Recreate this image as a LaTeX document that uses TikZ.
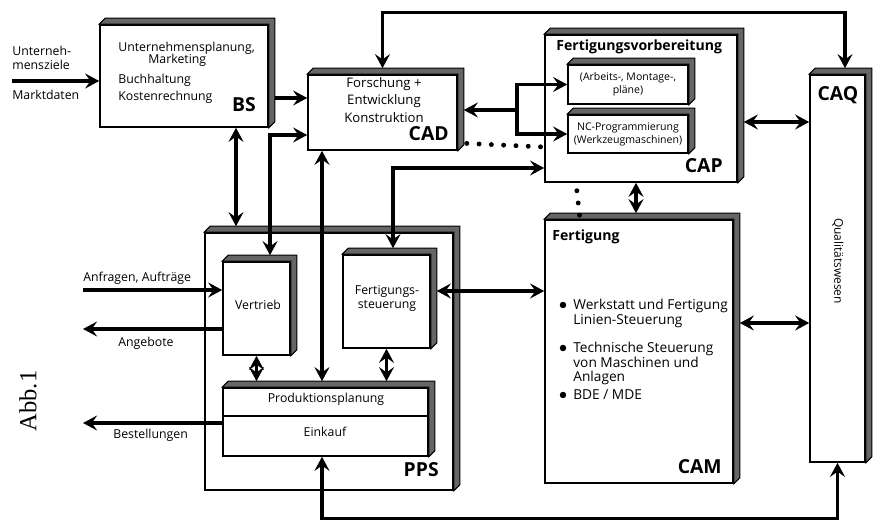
\documentclass[tikz,border=0pt]{standalone}
\usepackage{fontspec}
\setmainfont{Open Sans}
\newfontfamily\abbfont{Liberation Serif}
\usetikzlibrary{arrows.meta,fit}

\tikzset{
  box/.style={draw, line width=0.9pt, fill=white, inner sep=0pt},
  conn/.style={line width=1.8pt, -{Stealth[length=8pt,width=8.5pt,inset=3pt]}},
  dconn/.style={line width=1.8pt, {Stealth[length=8pt,width=8.5pt,inset=3pt]}-{Stealth[length=8pt,width=8.5pt,inset=3pt]}},
  dots/.style={line width=2.8pt, line cap=round, dash pattern=on 0pt off 7pt},
  txt/.style={font=\fontsize{7}{8}\selectfont, inner sep=0pt},
  small/.style={font=\fontsize{6}{7.5}\selectfont, inner sep=0pt},
  ttl/.style={font=\fontsize{8}{10}\selectfont\bfseries, inner sep=0pt},
  lbl/.style={font=\fontsize{11}{12}\selectfont\bfseries, inner sep=0pt},
}

% dark extruded edge on top and right of a box
\newcommand{\depth}[1]{%
  \filldraw[fill=black!60, line width=0.6pt] (#1.north west) -- ++(1.2mm,1.2mm)
    -| ([shift={(1.2mm,1.2mm)}]#1.south east) -- (#1.south east) -- (#1.north east) -- cycle;}

\begin{document}
\begin{tikzpicture}[x=0.2mm,y=-0.2mm]
  \useasboundingbox (0,0) rectangle (877,522);

  % boxes
  \node[box, fit={(100,25) (268,127)}] (bs) {};
  \node[box, fit={(308,75) (457,150)}] (cad) {};
  \node[box, fit={(545,35) (737,182)}] (cap) {};
  \node[box, fit={(568,65) (688,104)}] (arb) {};
  \node[box, fit={(568,115) (688,153)}] (ncp) {};
  \node[box, fit={(205,233) (453,490)}] (pps) {};
  \node[box, fit={(223,262) (290,355)}] (ver) {};
  \node[box, fit={(343,255) (430,348)}] (fst) {};
  \node[box, fit={(223,388) (428,456)}] (prod) {};
  \node[box, fit={(545,220) (733,483)}] (cam) {};
  \node[box, fit={(810,75) (865,462)}] (caq) {};
  \foreach \b in {bs,cad,cap,pps,cam,caq} {\depth{\b}}
  \foreach \b in {arb,ncp,ver,fst,prod} {\depth{\b}}
  \draw[line width=0.9pt] (prod.west |- 0,416) -- (prod.east |- 0,416);

  % texts
  \node[txt, anchor=west] (u1) at (118,48) {Unternehmensplanung,};
  \node[txt, anchor=west] (u2) at (148,60) {Marketing};
  \node[txt, anchor=west] (u3) at (118,80) {Buchhaltung};
  \node[txt, anchor=west] (u4) at (118,97) {Kostenrechnung};
  \node[lbl, anchor=east] (bsl) at (256,105) {BS};
  \node[txt, align=center, font=\fontsize{7.5}{10.2}\selectfont] (fe) at (384,100)
    {Forschung +\\Entwicklung\\Konstruktion};
  \node[lbl, anchor=east] (cadl) at (449,134) {CAD};
  \node[ttl, anchor=west] (fv) at (556,47) {Fertigungsvorbereitung};
  \node[small, align=center] (arbt) at (628,84) {(Arbeits-, Montage-,\\pläne)};
  \node[small, align=center] (ncpt) at (628,134) {NC-Programmierung\\(Werkzeugmaschinen)};
  \node[lbl, anchor=east] (capl) at (723,166) {CAP};
  \node[lbl] (caql) at (838,95) {CAQ};
  \node[txt, font=\fontsize{6.8}{8}\selectfont, rotate=-90] (qw) at (838,261) {Qualitätswesen};
  \node[ttl, anchor=west] (fg) at (552,237) {Fertigung};
  \foreach \y/\t [count=\i] in {305/{Werkstatt und Fertigung\\Linien-Steuerung},
      348/{Technische Steuerung\\von Maschinen und\\Anlagen}, 395/{BDE / MDE}} {
    \node[circle, fill, inner sep=1.3pt] (bul\i) at (563,\y) {};
    \node[txt, anchor=north west, align=left, font=\fontsize{7.8}{8.3}\selectfont]
      (it\i) at (573,\y-6) {\t};
  }
  \node[lbl, anchor=east] (caml) at (722,467) {CAM};
  \node[lbl, anchor=east] (ppsl) at (439,470) {PPS};
  \node[txt] (vt) at (258,305) {Vertrieb};
  \node[txt, align=center] (fstt) at (387,298) {Fertigungs-\\steuerung};
  \node[txt] (pp) at (326,399) {Produktionsplanung};
  \node[txt] (ek) at (325,432) {Einkauf};
  \node[txt, anchor=west, align=left] (uz) at (12,58) {Unterneh-\\mensziele};
  \node[txt, anchor=west] (md) at (12,95) {Marktdaten};
  \node[txt, anchor=west] (anft) at (83,278) {Anfragen, Aufträge};
  \node[txt, anchor=west] (angt) at (118,343) {Angebote};
  \node[txt, anchor=west] (best) at (113,435) {Bestellungen};
  \node[font=\abbfont\fontsize{14}{16}\selectfont, rotate=90, inner sep=0pt] (abb) at (28,401) {Abb.1};

  % free ends
  \coordinate (ziel) at (12,81);
  \coordinate (anf) at (83,290);
  \coordinate (ang) at (83,329);
  \coordinate (bes) at (83,423);
  \coordinate (split) at (517,110);

  % connectors
  \draw[conn] (ziel) -- (bs.west |- ziel);
  \draw[conn, shorten <=1.2mm] (bs.east |- 0,98) -- (cad.west |- 0,98);
  \draw[dconn, shorten >=1.2mm] (cad.west |- 0,135) -| (ver.north -| 270,0);
  \draw[dconn, shorten >=1.2mm] (bs.south -| 236,0) -- (pps.north -| 236,0);
  \draw[dconn, shorten <=1.2mm, shorten >=1.2mm] (cad.north) -- ++(0,-62) -| (caq.north -| 845,0);
  \draw[conn, shorten >=1.2mm] (split) -- (cad.east |- split);
  \draw[conn] (split) |- (arb.west);
  \draw[conn] (split) |- (ncp.west);
  \draw[dots, shorten <=1.8mm] (cad.east |- 0,143) -- (cap.west |- 0,147);
  \draw[dots, shorten <=1.6mm] (cap.south -| 576,0) -- (cam.north -| 580,0);
  \draw[dconn, shorten >=1.2mm] (cap.west |- 0,168) -| (fst.north -| 393,0);
  \draw[dconn, shorten >=1.2mm] (cad.south -| 322,0) -- (prod.north -| 322,0);
  \draw[dconn, shorten >=1.2mm] (ver.south) -- (prod.north -| ver.south);
  \draw[dconn, shorten >=1.2mm] (fst.south) -- (prod.north -| fst.south);
  \draw[dconn, shorten <=1.2mm] (fst.east |- 0,291) -- (cam.west |- 0,291);
  \draw[conn] (anf) -- (ver.west |- anf);
  \draw[conn] (ver.west |- ang) -- (ang);
  \draw[conn] (prod.west |- bes) -- (bes);
  \draw[dconn, shorten >=1.2mm] (cap.south -| 636,0) -- (cam.north -| 636,0);
  \draw[dconn, shorten <=1.2mm] (cap.east |- 0,122) -- (caq.west |- 0,122);
  \draw[dconn, shorten <=1.2mm] (cam.east |- 0,323) -- (caq.west |- 0,323);
  \draw[dconn] (prod.south -| 322,0) -- ++(0,62) -| (caq.south);
\end{tikzpicture}
\end{document}
